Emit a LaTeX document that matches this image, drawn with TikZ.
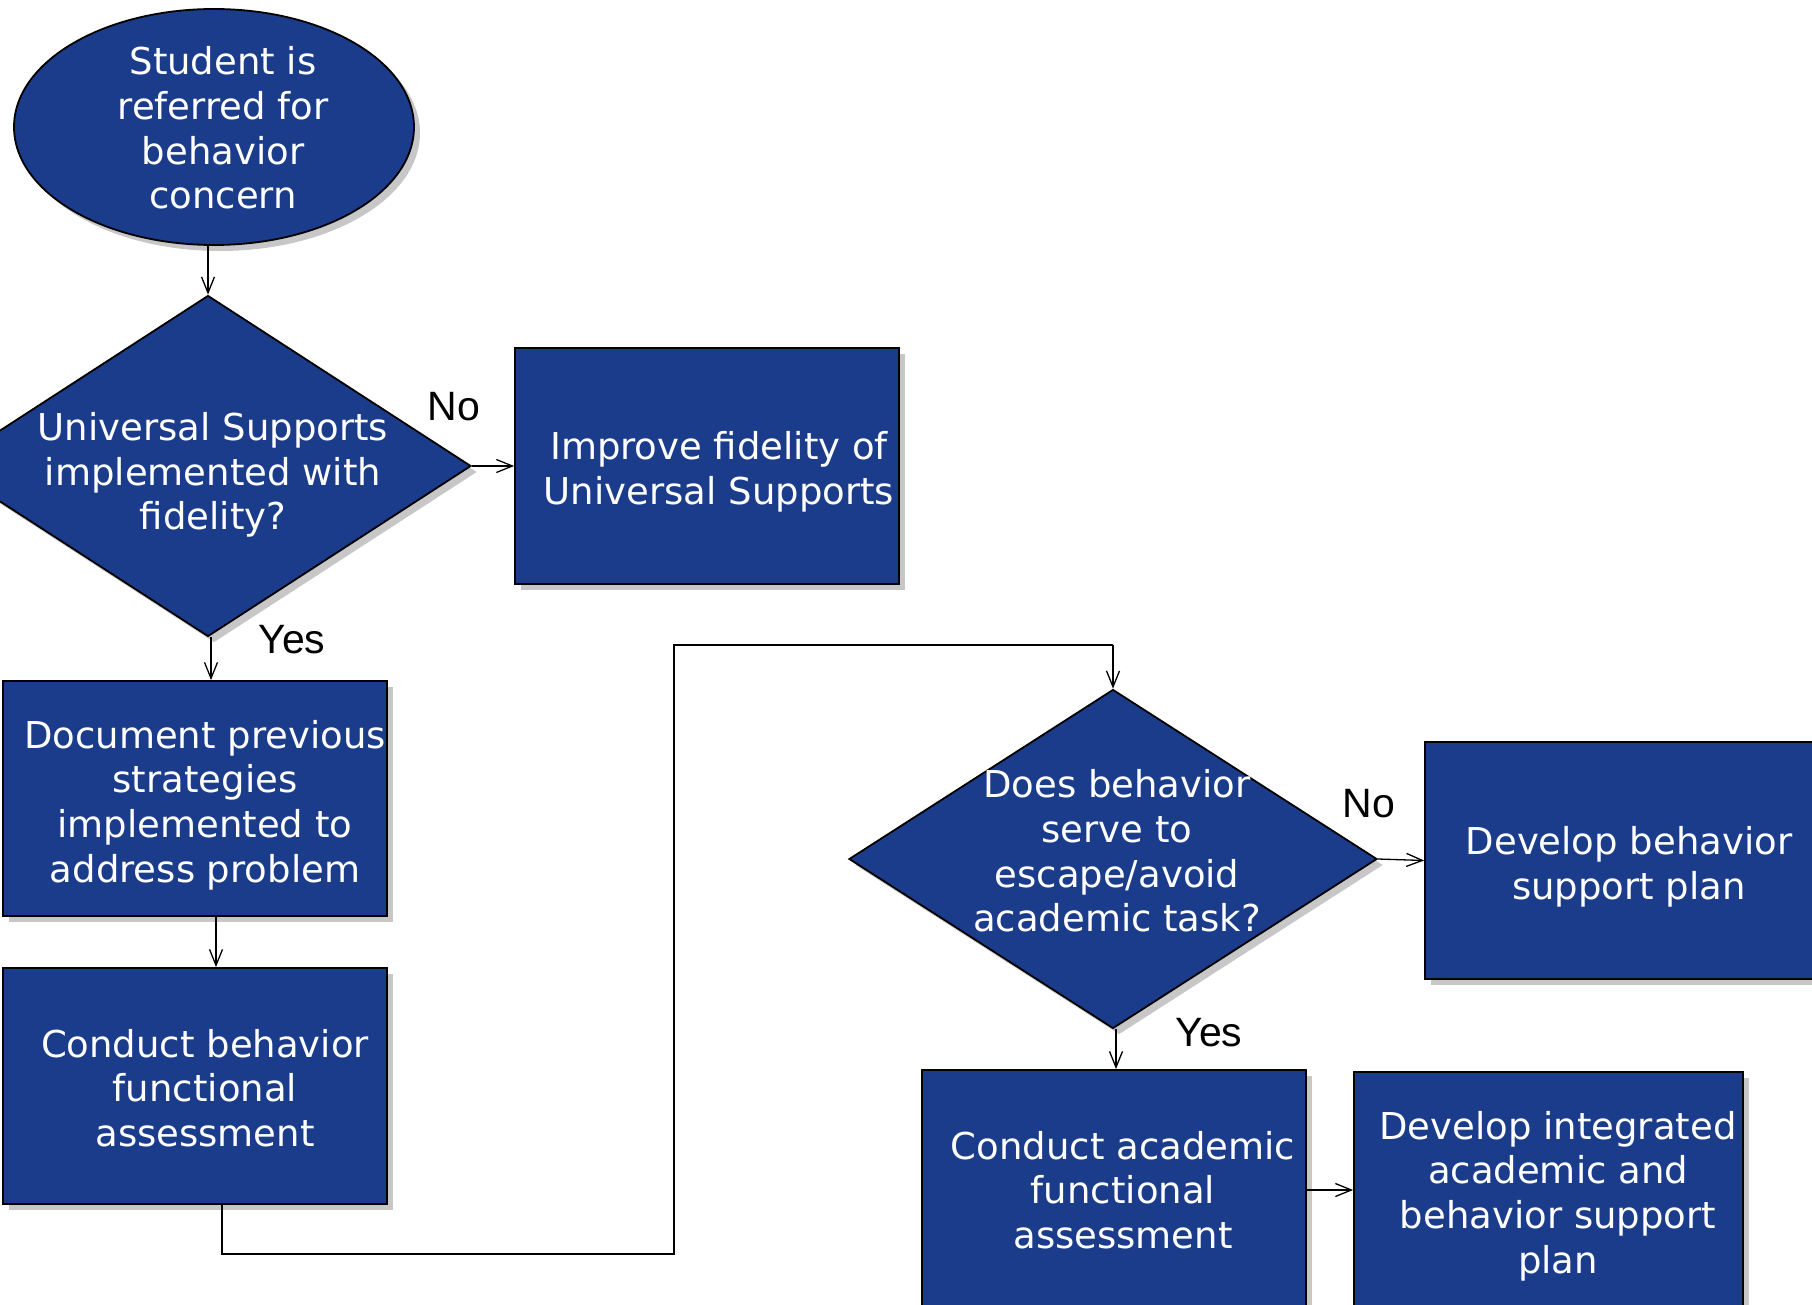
\documentclass[tikz,border=0pt]{standalone}
\usepackage{fontspec}
\setmainfont{DejaVu Sans}
\newfontfamily\lblfont{Liberation Sans}
\usetikzlibrary{shapes.geometric,shadows,arrows.meta}
\definecolor{boxblue}{HTML}{1A3C8B}
\tikzset{
  shp/.style={draw=black, line width=1.8pt, fill=boxblue, inner sep=0pt,
    drop shadow={shadow xshift=6pt, shadow yshift=-6pt, fill=black!22, opacity=1}},
  boxnode/.style={shp, rectangle},
  txt/.style={text=white, align=center, inner sep=0pt, font=\fontsize{37}{44.7}\selectfont},
  lbl/.style={text=black, inner sep=0pt, font=\lblfont\fontsize{41}{48}\selectfont},
  arr/.style={draw=black, line width=1.3pt, -{Straight Barb[length=16pt,width=13pt,line width=1.3pt]}},
  conn/.style={draw=black, line width=1.3pt}
}
\begin{document}
\begin{tikzpicture}[x=1pt,y=-1pt]
\useasboundingbox (0,0) rectangle (1812,1305);
\clip (0,0) rectangle (1812,1305);
\fill[white] (0,0) rectangle (1812,1305);

% start ellipse
\node[shp, ellipse, minimum width=400pt, minimum height=236pt] (start) at (214,127) {};
\node[txt] (starttxt) at (223,128) {Student is\\referred for\\behavior\\concern};

% decision 1
\node[shp, diamond, minimum width=526pt, minimum height=341pt] (d1) at (208,466) {};
\node[txt] (d1txt) at (213,475) {Universal Supports\\implemented with\\fidelity?};

% improve box
\node[boxnode, minimum width=384pt, minimum height=236pt] (imp) at (707,466) {};
\node[txt] (imptxt) at (719,472) {Improve fidelity of\\Universal Supports};

% document box
\node[boxnode, minimum width=384pt, minimum height=235pt] (doc) at (195,798.5) {};
\node[txt] (doctxt) at (205,805) {Document previous\\strategies\\implemented to\\address problem};

% conduct behavior FA
\node[boxnode, minimum width=384pt, minimum height=236pt] (cba) at (195,1086) {};
\node[txt] (cbatxt) at (205,1088) {Conduct behavior\\functional\\assessment};

% decision 2
\node[shp, diamond, minimum width=528pt, minimum height=339pt] (d2) at (1113,859) {};
\node[txt] (d2txt) at (1117,851) {Does behavior\\serve to\\escape/avoid\\academic task?};

% develop behavior support plan
\node[boxnode, minimum width=408pt, minimum height=237pt] (dbs) at (1629,860.5) {};
\node[txt] (dbstxt) at (1629,867) {Develop behavior\\support plan};

% conduct academic FA
\node[boxnode, minimum width=384pt, minimum height=240pt] (caf) at (1114,1190) {};
\node[txt] (caftxt) at (1123,1190) {Conduct academic\\functional\\assessment};

% develop integrated plan
\node[boxnode, minimum width=389pt, minimum height=238pt] (dia) at (1548.5,1191) {};
\node[txt] (diatxt) at (1558,1196) {Develop integrated\\academic and\\behavior support\\plan};

% labels
\node[lbl] (no1) at (454,407) {No};
\node[lbl] (yes1) at (292,640) {Yes};
\node[lbl] (no2) at (1369,804) {No};
\node[lbl] (yes2) at (1209,1033) {Yes};

% connectors
\draw[arr] (d1.north |- start.south) -- (d1.north);
\draw[arr] (d1.east) -- (imp.west);
\draw[arr] ([xshift=3pt]d1.south) -- ([xshift=3pt]d1.south |- doc.north);
\draw[arr] ([xshift=21pt]doc.south) -- ([xshift=21pt]doc.south |- cba.north);
\coordinate (turnA) at (674,1254);
\coordinate (turnB) at (674,645);
\draw[conn] ([xshift=27pt]cba.south) |- (turnA) -- (turnB) -- (turnB -| d2.north);
\draw[arr] (turnB -| d2.north) -- (d2.north);
\draw[arr] (d2.east) -- (dbs.west);
\draw[arr] ([xshift=3pt]d2.south) -- ([xshift=3pt]d2.south |- caf.north);
\draw[arr] (caf.east) -- (caf.east -| dia.west);
\end{tikzpicture}
\end{document}
